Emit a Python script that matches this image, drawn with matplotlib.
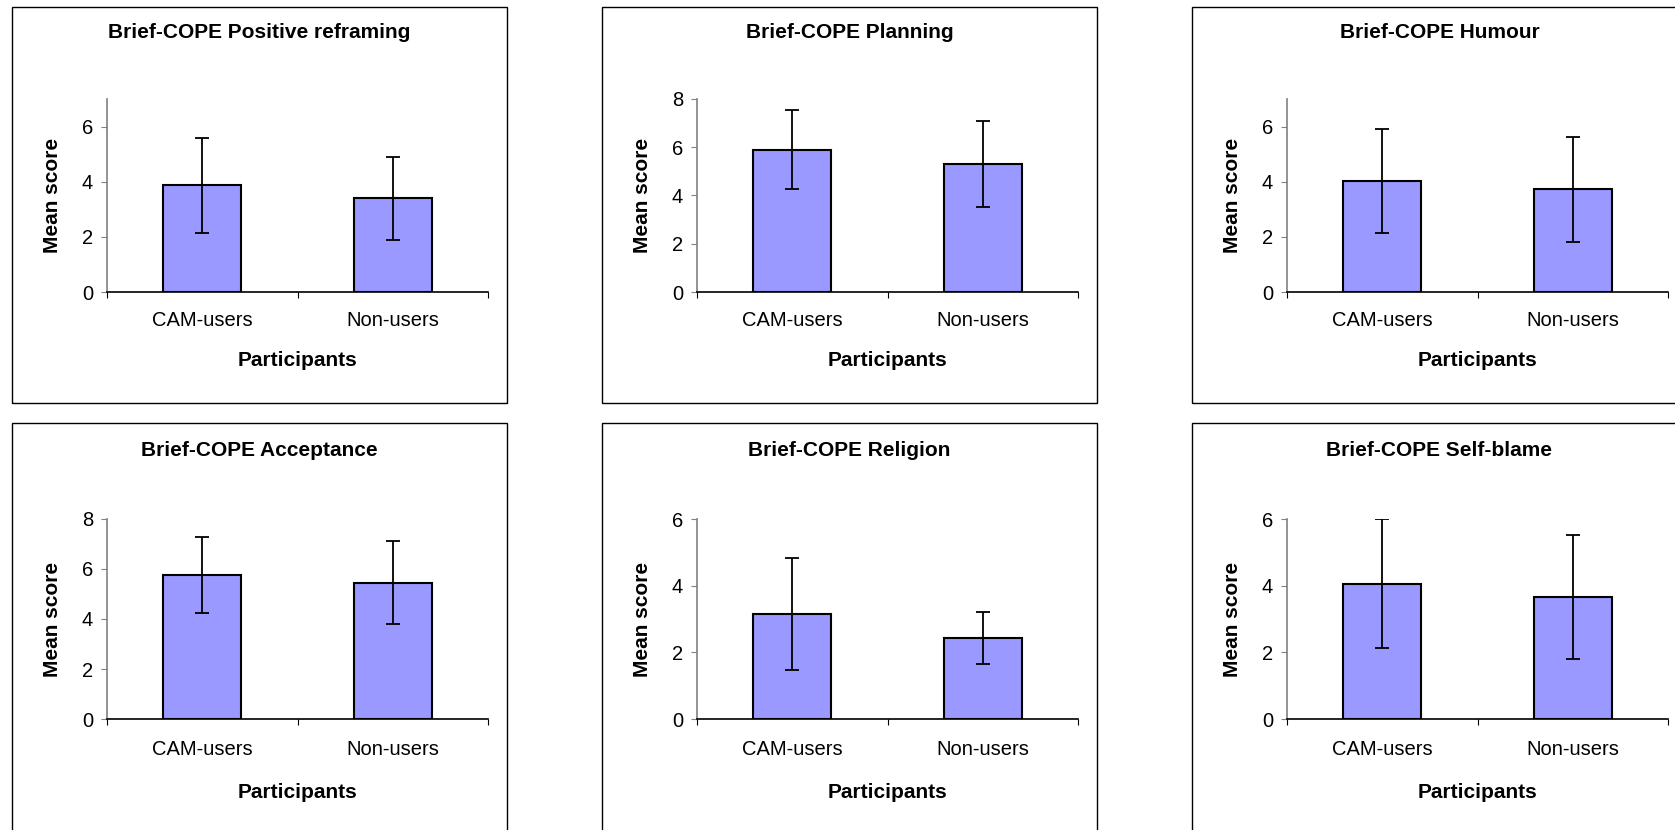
import matplotlib
matplotlib.use("Agg")
import matplotlib.pyplot as plt
from matplotlib.patches import Rectangle

plt.rcParams['font.family'] = ['Liberation Sans', 'DejaVu Sans']

groups = ["CAM-users", "Non-users"]
titles = ["Brief-COPE Positive reframing", "Brief-COPE Planning", "Brief-COPE Humour",
          "Brief-COPE Acceptance", "Brief-COPE Religion", "Brief-COPE Self-blame"]
means = [[3.87, 3.40], [5.90, 5.30], [4.02, 3.73],
         [5.78, 5.46], [3.14, 2.43], [4.06, 3.66]]
errs = [[1.73, 1.50], [1.64, 1.78], [1.88, 1.90],
        [1.52, 1.66], [1.68, 0.78], [1.94, 1.86]]
ymax = [7, 8, 7, 8, 6, 6]
yticks = [[0, 2, 4, 6], [0, 2, 4, 6, 8], [0, 2, 4, 6],
          [0, 2, 4, 6, 8], [0, 2, 4, 6], [0, 2, 4, 6]]

W, H = 1675, 830
fig = plt.figure(figsize=(W / 100, H / 100), dpi=100)

col_left = [107, 697, 1287]
frame_left = [12, 602, 1192]
rows = [dict(top=99, bot=292, ftop=7, fbot=403, title_y=33, tick_y=321, lab_y=360),
        dict(top=519, bot=719, ftop=423, fbot=850, title_y=450, tick_y=750, lab_y=792)]

for i in range(6):
    r = rows[i // 3]
    c = i % 3
    # panel frame
    fig.patches.append(Rectangle((frame_left[c] / W, 1 - r['fbot'] / H), 495 / W,
                                 (r['fbot'] - r['ftop']) / H, transform=fig.transFigure,
                                 fill=False, edgecolor='black', linewidth=1.0))
    h = r['bot'] - r['top']
    ax = fig.add_axes([col_left[c] / W, 1 - r['bot'] / H, 381 / W, h / H])
    ax.bar([0.5, 1.5], means[i], width=0.41, color='#9999FF', edgecolor='black',
           linewidth=1.5, yerr=errs[i], capsize=5,
           error_kw=dict(elinewidth=1.3, capthick=1.3, ecolor='black'))
    ax.set_xlim(0, 2)
    ax.set_ylim(0, ymax[i])
    ax.set_yticks(yticks[i])
    ax.set_xticks([0, 1, 2])
    ax.set_xticklabels([])
    ax.set_xticks([0.5, 1.5], minor=True)
    ax.set_xticklabels(groups, minor=True, fontsize=14.5)
    ax.tick_params(axis='x', which='minor', length=0, pad=(r['tick_y'] - r['bot']) * 0.72 - 7)
    ax.tick_params(axis='x', which='major', length=4, direction='out', color='black')
    ax.tick_params(axis='y', labelsize=14.5, length=4, direction='out', color='#808080', pad=6)
    for s in ['top', 'right']:
        ax.spines[s].set_visible(False)
    ax.spines['left'].set_color('#808080')
    ax.spines['left'].set_linewidth(1.2)
    ax.spines['bottom'].set_color('black')
    ax.spines['bottom'].set_linewidth(1.2)
    ax.set_ylabel("Mean score", fontsize=15, fontweight='bold', va='center')
    ax.yaxis.set_label_coords(-55 / 381, 0.5)
    ax.set_xlabel("Participants", fontsize=15, fontweight='bold', va='center')
    ax.xaxis.set_label_coords(0.5, -(r['lab_y'] - r['bot']) / h)
    fig.text((frame_left[c] + 247.5) / W, 1 - r['title_y'] / H, titles[i],
             fontsize=15, fontweight='bold', ha='center', va='center')

fig.savefig("out.png", dpi=100, facecolor='white')
